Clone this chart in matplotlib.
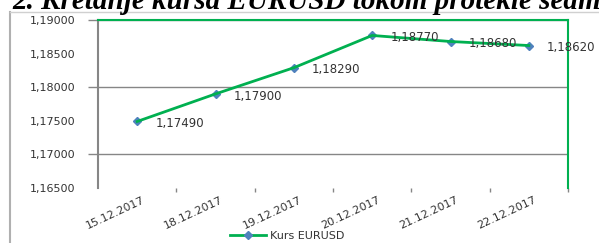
import matplotlib
matplotlib.use("Agg")
import matplotlib.pyplot as plt
import matplotlib.transforms as mtransforms
from matplotlib.lines import Line2D
from matplotlib.ticker import MultipleLocator, FixedLocator

# data
dates = ["15.12.2017", "18.12.2017", "19.12.2017", "20.12.2017", "21.12.2017", "22.12.2017"]
kurs = [1.17490, 1.17900, 1.18290, 1.18770, 1.18680, 1.18620]
series_name = "Kurs EURUSD"
title = "2. Kretanje kursa EURUSD tokom protekle sedmice"

green = "#00b050"
blue = "#4f81bd"
grey = "#868686"

def comma(v):
    return f"{v:.5f}".replace(".", ",")

fig = plt.figure(figsize=(5.99, 2.43), dpi=100)
ax = fig.add_axes([98 / 599, 1 - 188 / 243, 470 / 599, 168 / 243])

x = list(range(len(dates)))
ax.plot(x, kurs, linestyle="none", marker="D", markersize=4.5,
        color=blue, zorder=3)
ax.plot(x, kurs, color=green, linewidth=2, zorder=4)

for xi, v in zip(x, kurs):
    ax.annotate(comma(v), (xi, v), xytext=(13, -1.5), textcoords="offset points",
                va="center", ha="left", fontsize=8.5, color="#333333",
                annotation_clip=False, zorder=5)

ax.set_xlim(-0.5, len(dates) - 0.5)
ax.set_ylim(1.165, 1.19)

# y axis: labels every 0.005, ticks and grid every 0.01
ax.yaxis.remove_overlapping_locs = False
ax.yaxis.set_major_locator(MultipleLocator(0.005))
ax.yaxis.set_minor_locator(FixedLocator([1.17, 1.18, 1.19]))
ax.set_yticklabels([comma(t) for t in ax.get_yticks()])
ax.tick_params(axis="y", which="major", length=0, pad=16, labelsize=8, labelcolor="#333333")
ax.tick_params(axis="y", which="minor", length=7, width=1, color=grey)
ax.grid(axis="y", which="minor", color=grey, linewidth=1)
ax.set_axisbelow(True)

# x axis: labels at centres, small tick marks between categories
ax.set_xticks(x)
ax.set_xticklabels(dates, rotation=25, ha="right", va="top", rotation_mode="anchor")
ax.xaxis.set_minor_locator(FixedLocator([i + 0.5 for i in x]))
ax.tick_params(axis="x", which="major", length=0, pad=5, labelsize=8, labelcolor="#333333")
ax.tick_params(axis="x", which="minor", length=3, width=1, color=grey)
shift = mtransforms.ScaledTranslation(5 / 100, 0, fig.dpi_scale_trans)
for lab in ax.get_xticklabels():
    lab.set_transform(lab.get_transform() + shift)

ax.spines["left"].set_color(grey)
ax.spines["left"].set_linewidth(1.5)
ax.spines["top"].set_color(green)
ax.spines["top"].set_linewidth(1.5)
ax.spines["right"].set_color(green)
ax.spines["right"].set_linewidth(1.5)
ax.spines["bottom"].set_visible(False)
for s in ("top", "right", "left"):
    ax.spines[s].set_zorder(2.5)

# chart area frame (clipped by the page)
fig.add_artist(Line2D([10 / 599, 10 / 599], [0, 1 - 12 / 243], color="#b0b0b0", linewidth=1.5))
fig.add_artist(Line2D([10 / 599, 1], [1 - 12 / 243, 1 - 12 / 243], color="#d0d0d0", linewidth=1))

# legend
handle = Line2D([], [], color=green, linewidth=2, marker="D", markersize=4.5,
                markerfacecolor=blue, markeredgecolor=blue)
fig.legend([handle], [series_name], loc="center", bbox_to_anchor=(287 / 599, 1 - 236 / 243),
           frameon=False, fontsize=8, handlelength=3.3, handletextpad=0.3,
           borderpad=0, labelcolor="#333333")

# cut-off heading above the chart
fig.text(12 / 599, 1 - 9 / 243, title, fontsize=21, fontweight="bold", style="italic",
         family="Liberation Serif", ha="left", va="baseline")

fig.savefig("out.png", dpi=100)
